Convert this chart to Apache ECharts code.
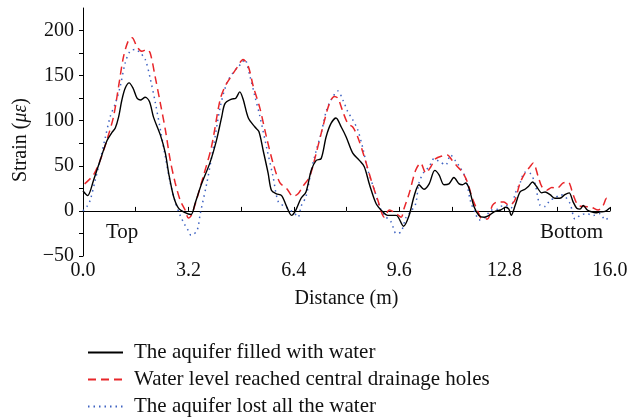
<!DOCTYPE html>
<html>
<head>
<meta charset="utf-8">
<script src="https://cdn.jsdelivr.net/npm/echarts@6/dist/echarts.min.js"></script>
<style>
html,body{margin:0;padding:0;background:#fff;}
#chart{width:639px;height:419px;}
</style>
</head>
<body>
<div id="chart"></div>
<script>
// Distance (m) and strain (με) for each curve
const distFilled = [0.0,0.14,0.32,0.52,0.73,0.88,0.98,1.08,1.18,1.28,1.40,1.52,1.64,1.74,1.89,2.02,2.14,2.35,2.50,2.60,2.75,2.90,3.10,3.28,3.40,3.60,3.85,4.05,4.21,4.31,4.51,4.64,4.76,4.86,5.02,5.22,5.34,5.47,5.62,5.72,5.87,6.03,6.18,6.33,6.45,6.62,6.77,6.93,7.08,7.23,7.38,7.53,7.68,7.84,7.99,8.19,8.39,8.54,8.70,8.90,9.10,9.25,9.51,9.73,9.90,10.05,10.20,10.35,10.51,10.68,10.81,10.96,11.11,11.26,11.42,11.52,11.62,11.72,11.87,12.02,12.18,12.33,12.48,12.68,12.83,12.93,13.00,13.12,13.27,13.42,13.52,13.65,13.77,13.93,14.03,14.18,14.33,14.48,14.63,14.76,14.88,14.99,15.09,15.19,15.31,15.44,15.57,15.70,15.85,16.0];
const strainFilled = [22,17,34,56,78,87,92,104,123,136,142,136,125,123,126,121,104,84,64,42,16,3,-2,-4,8,30,53,78,104,119,124,125,132,124,103,93,88,67,42,23,19,17,5,-5,0,14,21,45,56,58,82,97,103,93,82,64,56,49,29,8,-1,-5,-5,-17,-5,16,29,24,30,45,40,29,30,37,30,29,31,25,5,-5,-7,-5,-1,1,4,2,-5,6,21,24,27,32,27,20,21,18,14,14,18,20,10,3,2,6,1,-1,-2,-1,-0.5,3.5];

const distCentral = [0.05,0.32,0.52,0.73,0.93,1.08,1.23,1.38,1.49,1.64,1.79,1.94,2.04,2.19,2.35,2.50,2.65,2.80,2.95,3.10,3.20,3.30,3.46,3.65,3.90,4.16,4.31,4.46,4.66,4.86,5.02,5.17,5.37,5.57,5.77,5.98,6.18,6.38,6.53,6.67,6.88,7.08,7.28,7.48,7.63,7.74,7.89,8.04,8.19,8.34,8.54,8.75,8.95,9.15,9.30,9.51,9.66,9.75,9.90,10.10,10.25,10.41,10.56,10.71,10.91,11.06,11.21,11.37,11.52,11.67,11.82,11.97,12.12,12.28,12.43,12.58,12.78,12.93,13.10,13.27,13.42,13.57,13.67,13.82,13.93,14.08,14.23,14.38,14.58,14.73,14.88,15.04,15.24,15.44,15.64,15.79,15.90,16.0];
const strainCentral = [30,40,56,79,105,138,171,189,192,182,177,179,175,149,119,90,56,31,12,1,-8,-4,14,38,71,123,138,147,158,168,160,138,114,82,53,31,25,16,19,27,38,64,93,119,127,125,110,97,93,82,60,34,12,-7,1,-3,-7,3,19,45,53,42,49,58,61,62,56,49,43,32,14,1,-9,-9,6,10,10,6,11,31,42,49,53,38,27,23,26,25,31,32,18,6,5,4,1,6,14,12];

const distLost = [0.0,0.12,0.22,0.37,0.52,0.68,0.83,0.98,1.13,1.28,1.43,1.59,1.74,1.89,2.04,2.19,2.35,2.50,2.65,2.80,2.95,3.10,3.20,3.28,3.46,3.56,3.76,3.96,4.17,4.37,4.57,4.82,4.91,5.07,5.22,5.37,5.57,5.77,5.93,6.13,6.28,6.43,6.53,6.62,6.77,6.93,7.08,7.23,7.38,7.53,7.74,7.89,8.04,8.19,8.34,8.50,8.65,8.85,9.00,9.15,9.35,9.51,9.66,9.81,9.95,10.10,10.20,10.35,10.51,10.66,10.81,11.01,11.16,11.32,11.47,11.62,11.77,11.92,12.02,12.23,12.38,12.53,12.68,12.83,12.99,13.12,13.27,13.42,13.57,13.72,13.88,14.03,14.18,14.33,14.48,14.63,14.79,14.94,15.09,15.29,15.49,15.70,15.85,16.0];
const strainLost = [0,5,12,34,56,82,105,119,138,164,177,179,175,168,147,121,90,60,31,10,-5,-16,-22,-27,-22,-3,31,71,116,142,154,164,168,149,127,105,71,38,10,5,1,-3,-7,5,16,45,67,86,110,123,133,123,110,101,90,69,45,23,5,-5,-12,-25,-23,-7,-1,8,31,43,49,58,55,51,62,55,47,36,10,-3,-10,-7,1,1,5,6,3,19,31,43,42,31,6,5,12,14,18,16,8,-9,-5,-3,-5,-3,-10,-6];

const seriesNames = ['The aquifer filled with water','Water level reached central drainage holes','The aquifer lost all the water'];
const xTickLabels = ['0.0','3.2','6.4','9.6','12.8','16.0'];
const yTickLabels = ['\u221250','0','50','100','150','200'];

function pairs(xs, ys){ return xs.map((x,i)=>[x, ys[i]]); }

const FONT = '"Liberation Serif","DejaVu Serif",serif';
const FS = 20;
const chart = echarts.init(document.getElementById('chart'), null, {renderer:'canvas'});

chart.setOption({
  animation:false,
  backgroundColor:'#fff',
  textStyle:{fontFamily:FONT},
  grid:{left:83,right:29,top:8,bottom:163,containLabel:false},
  xAxis:{
    type:'value',min:0,max:16,interval:1.6,
    name:'Distance (m)',nameLocation:'middle',nameGap:33,
    nameTextStyle:{fontFamily:FONT,fontSize:FS,color:'#111'},
    axisLine:{lineStyle:{color:'#000',width:1}},
    axisTick:{inside:true,length:4,lineStyle:{color:'#000'}},
    axisLabel:{fontFamily:FONT,fontSize:FS,color:'#111',margin:5,
      formatter:function(v){
        const k=v/3.2; if(Math.abs(k-Math.round(k))<1e-6){return xTickLabels[Math.round(k)];} return '';
      }},
    splitLine:{show:false}
  },
  yAxis:{
    type:'value',min:-50,max:225,interval:25,
    name:'Strain ({i|\u03bc\u03b5})',nameLocation:'middle',nameGap:52,
    nameTextStyle:{fontFamily:FONT,fontSize:FS,color:'#111',padding:[0,16,0,0],
      rich:{i:{fontFamily:FONT,fontSize:FS,fontStyle:'italic',color:'#111'}}},
    axisLine:{lineStyle:{color:'#000',width:1}},
    axisTick:{inside:false,length:4,lineStyle:{color:'#000'}},
    axisLabel:{fontFamily:FONT,fontSize:FS,color:'#111',margin:9,showMaxLabel:false,
      formatter:function(v){
        if(v%50!==0||v>200) return '';
        return yTickLabels[(v+50)/50];
      }},
    splitLine:{show:false}
  },
  legend:{
    orient:'vertical',left:87,top:342,padding:0,itemWidth:35,itemHeight:14,itemGap:6,
    itemStyle:{opacity:0},
    textStyle:{fontFamily:FONT,fontSize:21,color:'#111',padding:[0,0,0,6]},
    data:seriesNames
  },
  graphic:[
    {type:'text',left:106,top:222,style:{text:'Top',font:'21px '+FONT,fill:'#111'}},
    {type:'text',left:540,top:222,style:{text:'Bottom',font:'21px '+FONT,fill:'#111'}}
  ],
  series:[
    {name:seriesNames[0],type:'line',data:pairs(distFilled,strainFilled),symbol:'none',smooth:0.3,
      lineStyle:{color:'#000',width:1.4,type:'solid'},itemStyle:{color:'#000'},z:3},
    {name:seriesNames[1],type:'line',data:pairs(distCentral,strainCentral),symbol:'none',smooth:0.3,
      lineStyle:{color:'#e8262a',width:1.5,type:[8,5]},itemStyle:{color:'#e8262a'},z:2},
    {name:seriesNames[2],type:'line',data:pairs(distLost,strainLost),symbol:'none',smooth:0.3,
      lineStyle:{color:'#3f63c2',width:1.5,type:[1.5,4]},itemStyle:{color:'#3f63c2'},z:1}
  ]
});
</script>
</body>
</html>
